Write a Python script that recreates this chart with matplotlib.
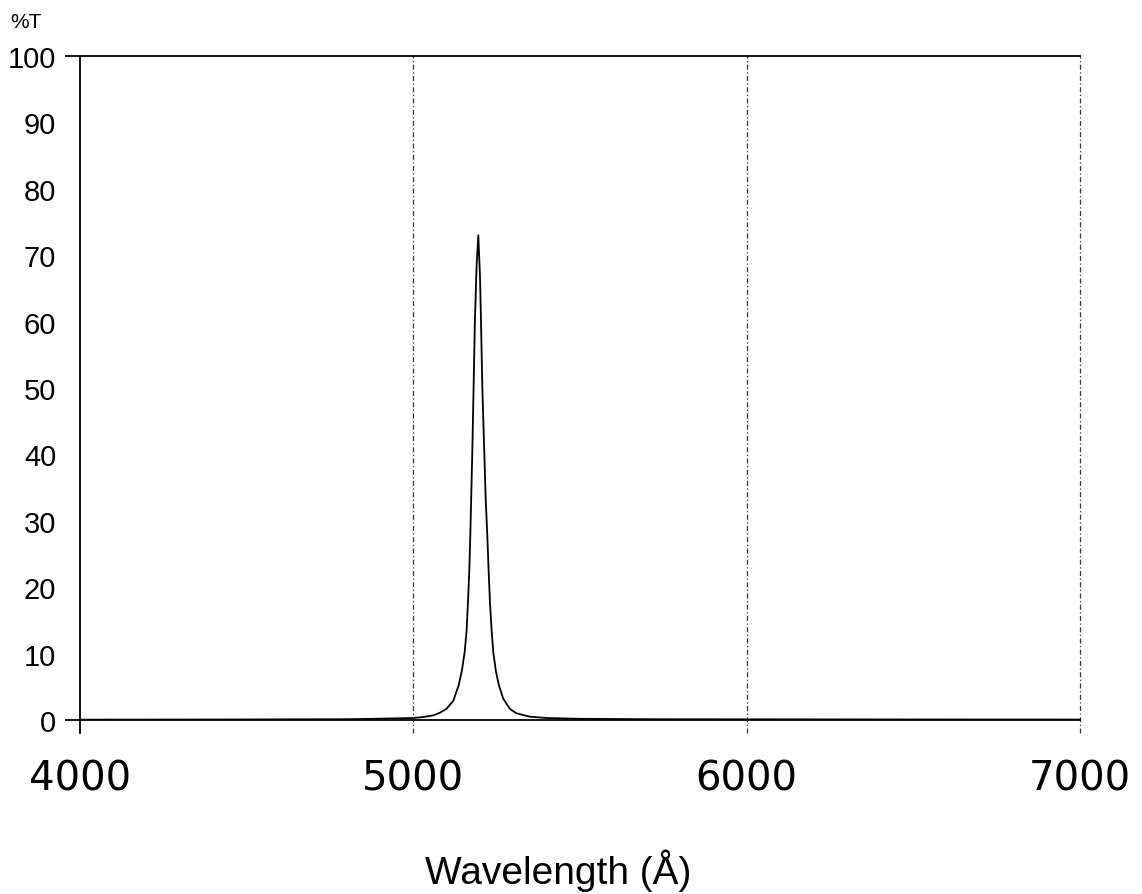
import matplotlib
matplotlib.use("Agg")
import matplotlib.pyplot as plt

# transmission curve
wavelength = [4000, 4500, 4800, 4900, 5000, 5030, 5060, 5080, 5100, 5120,
              5136, 5146, 5154, 5160, 5164, 5168, 5171, 5174, 5177, 5181,
              5185, 5190, 5195, 5200, 5203, 5207, 5213, 5217, 5222, 5226,
              5230, 5235, 5240, 5248, 5257, 5270, 5290, 5310, 5350, 5400,
              5500, 5700, 6000, 6500, 7000]
transmission = [0.05, 0.08, 0.12, 0.2, 0.3, 0.45, 0.7, 1.1, 1.7, 2.9,
                5.2, 7.5, 10.2, 13.5, 17.7, 22.5, 27.8, 34.0, 40.3, 50.3,
                60.4, 68.5, 73.0, 67.0, 60.4, 50.3, 40.3, 33.5, 27.8, 22.5,
                17.7, 13.5, 10.2, 7.3, 5.2, 3.2, 1.66, 1.0, 0.5, 0.3,
                0.18, 0.12, 0.1, 0.08, 0.07]

x_ticks = [4000, 5000, 6000, 7000]
y_ticks = [0, 10, 20, 30, 40, 50, 60, 70, 80, 90, 100]
grid_x = [5000, 6000, 7000]

sans = ["Liberation Sans", "DejaVu Sans"]

fig = plt.figure(figsize=(11.42, 8.95), dpi=100)
ax = fig.add_axes([0.070, 0.1944, 0.8757, 0.7419])

ax.plot(wavelength, transmission, color="black", lw=1.3)
ax.vlines(grid_x, -2, 100, colors="#333333", lw=0.9,
          linestyles=[(0, (4, 2, 1, 2))], clip_on=False)

ax.set_xlim(4000, 7000)
ax.set_ylim(0, 100)

ax.spines["right"].set_visible(False)
for s in ("left", "top", "bottom"):
    ax.spines[s].set_linewidth(1.3)
ax.spines["left"].set_bounds(-2, 100)

ax.set_yticks(y_ticks)
ax.set_yticklabels([str(v) for v in y_ticks], family=sans, fontsize=21)
ax.tick_params(axis="y", length=11, width=1.3, pad=6)
for t, v in zip(ax.yaxis.get_major_ticks(), y_ticks):
    if v not in (0, 100):
        t.tick1line.set_visible(False)

ax.set_xticks(x_ticks)
ax.set_xticklabels([str(v) for v in x_ticks], family="DejaVu Sans", fontsize=29)
ax.tick_params(axis="x", length=0, pad=28)

fig.text(0.009, 0.975, "%T", family=sans, fontsize=15, va="center")
ax.set_xlabel("Wavelength (Å)", family=sans, fontsize=28, labelpad=36)
ax.xaxis.label.set_x(0.478)

plt.savefig("out.png")
